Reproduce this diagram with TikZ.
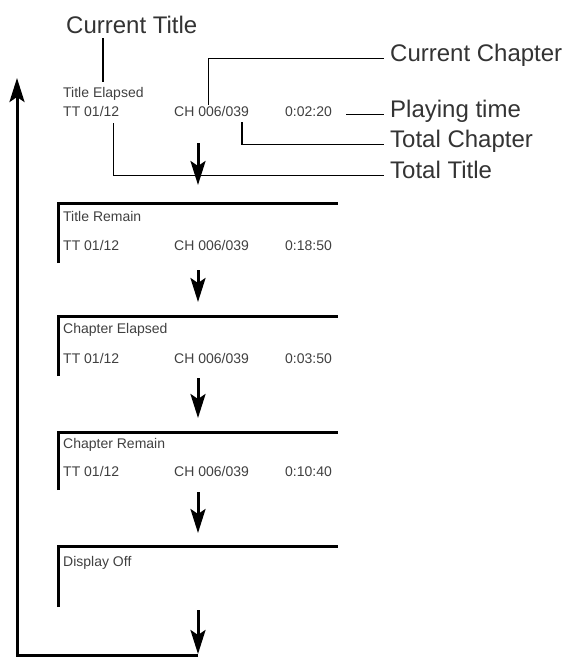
\documentclass[tikz,border=0pt]{standalone}
\usepackage{fontspec}
\setmainfont{Liberation Sans}
\usepackage{tikz}
\usetikzlibrary{arrows.meta}
\tikzstyle{callout} = [font=\fontsize{24}{28}\selectfont, text=black!80, anchor=base west, inner xsep=6pt, inner ysep=1pt]
\tikzstyle{lcd} = [font=\fontsize{14}{16}\selectfont, text=black!75, anchor=base west, inner sep=0pt]
\tikzstyle{pointer} = [draw, line width=1.5pt]
\tikzstyle{panel} = [draw, line width=3pt]
\tikzstyle{flow} = [draw, line width=3pt, -{Stealth[length=24pt,width=15pt,inset=5pt]}]

\begin{document}
\begin{tikzpicture}[x=1pt,y=-1pt]
    \useasboundingbox (0,0) rectangle (574,662);

        % callouts
        \node[callout] (ctitle) at (60,33) {Current Title};
        \node[callout] (cchap) at (384,61) {Current Chapter};
        \node[callout] (ptime) at (384,117) {Playing time};
        \node[callout] (tchap) at (384,147) {Total Chapter};
        \node[callout] (ttitle) at (384,178) {Total Title};

        % first display
        \node[lcd] (te) at (63,97) {Title Elapsed};
        \node[lcd] (tt0) at (63,116) {TT 01/12};
        \node[lcd] (ch0) at (174,116) {CH 006/039};
        \node[lcd] (tm0) at (285,116) {0:02:20};

        \coordinate (ctfoot) at (103,38);
        \draw[pointer] (ctfoot) -- ([yshift=5pt]ctfoot |- te.north);
        \draw[pointer] ([xshift=-3pt,yshift=1pt]ch0.north) |- (cchap.mid west);
        \draw[pointer] ([xshift=14pt]tm0.east |- ptime.mid west) -- (ptime.mid west);
        \draw[pointer] ([xshift=-7pt,yshift=-6pt]ch0.south east) |- (tchap.mid west);
        \draw[pointer] ([xshift=-6pt,yshift=-7pt]tt0.south east) |- (ttitle.mid west);

        % display panels
        \coordinate (box1) at (58,203);
        \coordinate (box2) at (58,316);
        \coordinate (box3) at (58,432);
        \coordinate (box4) at (58,546);
        \draw[panel] (58,263) -- (box1) -- (338,203);
        \draw[panel] (58,376) -- (box2) -- (338,316);
        \draw[panel] (58,490) -- (box3) -- (338,432);
        \draw[panel] (58,607) -- (box4) -- (338,546);

        \node[lcd] (tr) at (63,221) {Title Remain};
        \node[lcd] (tt1) at (63,250) {TT 01/12};
        \node[lcd] (ch1) at (174,250) {CH 006/039};
        \node[lcd] (tm1) at (285,250) {0:18:50};

        \node[lcd] (ce) at (63,333) {Chapter Elapsed};
        \node[lcd] (tt2) at (63,363) {TT 01/12};
        \node[lcd] (ch2) at (174,363) {CH 006/039};
        \node[lcd] (tm2) at (285,363) {0:03:50};

        \node[lcd] (cr) at (63,448) {Chapter Remain};
        \node[lcd] (tt3) at (63,476) {TT 01/12};
        \node[lcd] (ch3) at (174,476) {CH 006/039};
        \node[lcd] (tm3) at (285,476) {0:10:40};

        \node[lcd] (doff) at (63,566) {Display Off};

        % arrows
        \coordinate (a1) at (198,143);
        \coordinate (a2) at (198,270);
        \coordinate (a3) at (198,378);
        \coordinate (a4) at (198,492);
        \coordinate (a5) at (198,610);
        \coordinate (back) at (198,655);
        \coordinate (top) at (17,78);
        \draw[flow] (a1) -- ++(0,42);
        \draw[flow] (a2) -- ++(0,32);
        \draw[flow] (a3) -- ++(0,40);
        \draw[flow] (a4) -- ++(0,41);
        \draw[flow] (a5) -- ([yshift=1pt]back);
        \draw[flow] (back) -| (top);

    \end{tikzpicture}
\end{document}
